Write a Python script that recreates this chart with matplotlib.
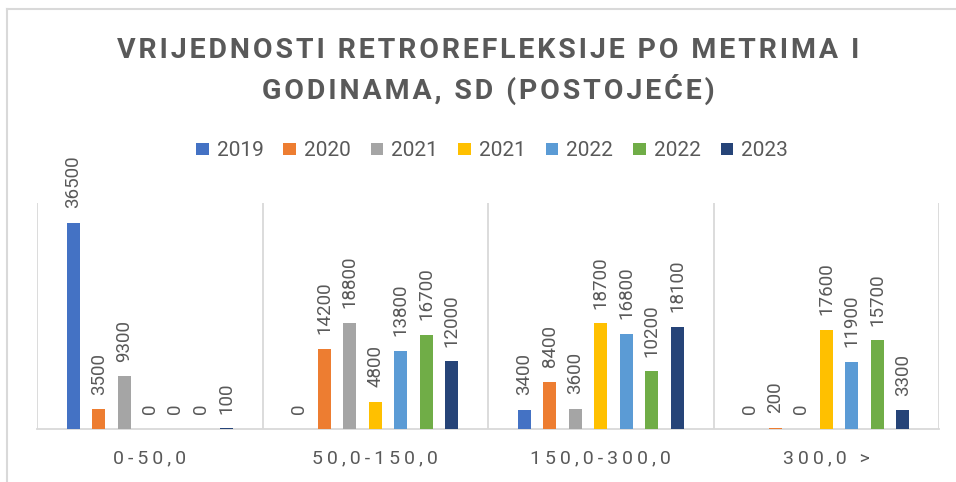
import matplotlib
matplotlib.use("Agg")
import matplotlib.pyplot as plt
from matplotlib.lines import Line2D
import numpy as np

categories = ["0-50,0", "50,0-150,0", "150,0-300,0", "300,0 >"]
series_names = ["2019", "2020", "2021", "2021", "2022", "2022", "2023"]
s2019a = [36500, 0, 3400, 0]
s2020 = [3500, 14200, 8400, 200]
s2021a = [9300, 18800, 3600, 0]
s2021b = [0, 4800, 18700, 17600]
s2022a = [0, 13800, 16800, 11900]
s2022b = [0, 16700, 10200, 15700]
s2023 = [100, 12000, 18100, 3300]
series_values = [s2019a, s2020, s2021a, s2021b, s2022a, s2022b, s2023]
colors = ["#4472C4", "#ED7D31", "#A5A5A5", "#FFC000", "#5B9BD5", "#70AD47", "#264478"]
title = "VRIJEDNOSTI RETROREFLEKSIJE PO METRIMA I\nGODINAMA, SD (POSTOJEĆE)"

FAM = ["Roboto", "DejaVu Sans"]
TXT = "#595959"
GRID = "#D9D9D9"


def spaced(s, n=1):
    sp = "\u200a" * n
    return "\n".join(sp.join(list(line)) for line in s.split("\n"))


W, H = 956, 482
fig = plt.figure(figsize=(W / 100, H / 100), dpi=100)
ax = fig.add_axes([37 / W, 1 - 429 / H, (939 - 37) / W, (429 - 203) / H])

x = np.arange(len(categories))
step = 0.113
bw = 0.058
for i, (name, vals, c) in enumerate(zip(series_names, series_values, colors)):
    xs = x + (i - 3) * step
    ax.bar(xs, vals, width=bw, color=c, label=name, zorder=3)
    for xi, v in zip(xs, vals):
        ax.annotate(str(v), (xi, v), xytext=(0, 10.5), textcoords="offset points",
                    rotation=90, ha="center", va="bottom", fontsize=13.5,
                    color=TXT, family=FAM)

ax.set_xlim(-0.5, len(categories) - 0.5)
ax.set_ylim(0, 40000)
ax.set_yticks([])
for b in np.arange(-0.5, len(categories), 1.0):
    ax.axvline(b, color=GRID, lw=1.3, zorder=1)
for sp in ["top", "right", "left"]:
    ax.spines[sp].set_visible(False)
ax.spines["bottom"].set_color(GRID)
ax.spines["bottom"].set_linewidth(1.3)
ax.set_xticks(x)
ax.set_xticklabels([spaced(c, 2) for c in categories], fontsize=14, color=TXT, family=FAM)
ax.tick_params(axis="x", length=0, pad=15)

fig.text(0.5 + 10 / W, 1 - 71 / H, spaced(title, 1), ha="center", va="center",
         fontsize=20.5, fontweight="bold", color=TXT, family=FAM, linespacing=1.42)

leg = fig.legend(loc="center", bbox_to_anchor=(492 / W, 1 - 151 / H), ncol=7,
                 frameon=False, fontsize=15, handlelength=0.62, handleheight=0.55,
                 handletextpad=0.38, columnspacing=0.95, borderaxespad=0)
for t in leg.get_texts():
    t.set_color(TXT)
    t.set_family(FAM)

fig.add_artist(Line2D([7 / W, 7 / W], [0, 1 - 9 / H], color=GRID, lw=1.5))
fig.add_artist(Line2D([7 / W, 1], [1 - 9 / H, 1 - 9 / H], color=GRID, lw=1.5))

fig.savefig("out.png", dpi=100)
